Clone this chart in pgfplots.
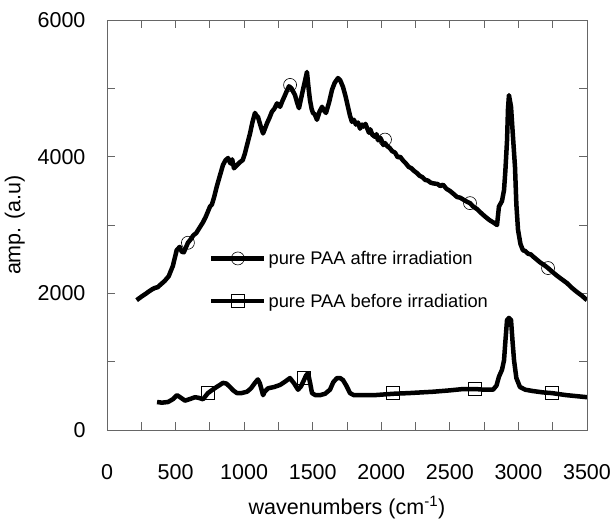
\documentclass[border=0pt]{standalone}
\usepackage{fontspec}
\setmainfont{Liberation Sans}
\usepackage{pgfplots}
\pgfplotsset{compat=1.18}
\begin{document}
\begin{tikzpicture}
\useasboundingbox (-107pt,-98pt) rectangle (506pt,430pt);
\begin{axis}[
  at={(0pt,0pt)}, anchor=south west,
  scale only axis, width=480pt, height=410pt,
  xmin=0, xmax=3500, ymin=0, ymax=6000,
  xtick={0,500,...,3500}, ytick={0,2000,4000,6000},
  minor xtick={250,750,...,3250}, minor ytick={1000,3000,5000},
  tick align=inside, major tick length=8pt, minor tick length=8pt,
  axis line style={gray!80!black, line width=0.8pt},
  every tick/.style={gray!80!black, line width=0.8pt},
  /pgf/number format/assume math mode=true,
  /pgf/number format/1000 sep={},
  font=\fontsize{21.5}{25}\selectfont,
  xticklabel style={yshift=-31pt},
  yticklabel style={xshift=-18pt},
  xlabel={wavenumbers (cm\textsuperscript{-1})},
  ylabel={amp. (a.u)},
  xlabel style={yshift=-10pt},
  ylabel style={yshift=6pt},
  legend image code/.code={\draw[#1, mark repeat=2, mark phase=2] plot coordinates {(0pt,0pt) (26.5pt,0pt) (53pt,0pt)};},
  legend style={draw=none, fill=none, at={(axis cs:721,2680)}, anchor=north west,
    font=\fontsize{18.3}{21}\selectfont, row sep=24pt, nodes={inner sep=2pt}},
  legend cell align=left,
]
\addplot[black, line width=4.5pt, line join=round, forget plot] coordinates {
(216,1900) (250,1950) (280,1990) (300,2020) (330,2060) (350,2080) (370,2090) (386,2120) (420,2180) (450,2250) (480,2400) (508,2630) (530,2680) (545,2610) (560,2600) (590,2740) (610,2790) (630,2850) (650,2880) (678,2970) (700,3040) (720,3120) (751,3270) (765,3300) (780,3400) (800,3560) (820,3700) (846,3880) (865,3950) (883,3980) (900,3900) (913,3960) (926,3830) (950,3880) (970,3920) (990,3950) (1006,4050) (1025,4200) (1043,4340) (1060,4500) (1079,4640) (1090,4600) (1101,4580) (1120,4450) (1138,4340) (1150,4400) (1167,4490) (1185,4570) (1203,4660) (1220,4700) (1240,4780) (1262,4730) (1280,4820) (1298,4900) (1315,4980) (1327,5030) (1345,5000) (1371,4900) (1385,4800) (1400,4710) (1415,4850) (1429,4980) (1445,5120) (1458,5240) (1470,5000) (1480,4830) (1492,4700) (1502,4640) (1515,4620) (1531,4540) (1550,4660) (1568,4730) (1580,4680) (1597,4640) (1620,4800) (1641,4980) (1660,5080) (1684,5150) (1700,5120) (1721,5020) (1740,4880) (1757,4730) (1772,4600) (1786,4510) (1800,4540) (1815,4470) (1830,4500) (1845,4410) (1860,4470) (1870,4440) (1885,4480) (1896,4420) (1910,4350) (1920,4400) (1935,4320) (1954,4290) (1965,4330) (1976,4240) (1990,4280) (2000,4250) (2015,4170) (2027,4200) (2045,4150) (2060,4130) (2080,4080) (2100,4060) (2120,3990) (2137,4000) (2160,3940) (2180,3900) (2200,3850) (2220,3830) (2240,3790) (2260,3760) (2280,3720) (2300,3700) (2320,3660) (2340,3650) (2360,3620) (2377,3610) (2410,3600) (2430,3570) (2450,3590) (2475,3530) (2500,3500) (2530,3450) (2552,3410) (2575,3400) (2600,3370) (2625,3340) (2647,3320) (2670,3270) (2700,3230) (2720,3190) (2742,3150) (2765,3110) (2790,3070) (2815,3040) (2844,3000) (2858,3270) (2880,3350) (2895,3510) (2905,3800) (2917,4240) (2924,4700) (2931,4900) (2946,4730) (2960,4300) (2975,3850) (2985,3300) (2997,2930) (3015,2720) (3033,2630) (3050,2620) (3070,2580) (3090,2570) (3106,2540) (3130,2500) (3160,2450) (3190,2410) (3216,2370) (3250,2310) (3280,2260) (3320,2200) (3354,2150) (3390,2080) (3420,2030) (3460,1970) (3500,1900)
};
\addplot[black, line width=0.6pt, only marks, mark=o, mark size=6.5pt, forget plot] coordinates {
(590,2740) (1335,5050) (2027,4250) (2647,3320) (3216,2370)
};
\addplot[black, line width=4.5pt, line join=round, forget plot] coordinates {
(365,410) (400,400) (445,410) (480,450) (510,510) (540,470) (569,430) (600,450) (642,480) (670,470) (700,450) (736,540) (770,590) (800,630) (846,690) (870,680) (897,630) (920,580) (948,540) (980,540) (1021,560) (1050,610) (1079,690) (1100,740) (1115,680) (1138,510) (1150,560) (1174,610) (1220,630) (1262,660) (1300,710) (1334,760) (1365,680) (1393,590) (1415,640) (1436,730) (1452,800) (1466,830) (1480,700) (1495,540) (1520,510) (1553,510) (1590,530) (1626,590) (1650,700) (1677,760) (1700,760) (1721,730) (1745,650) (1772,540) (1800,510) (1867,510) (1950,510) (2086,530) (2200,540) (2377,560) (2500,580) (2600,600) (2683,600) (2750,590) (2815,590) (2840,650) (2858,780) (2880,880) (2895,1020) (2905,1300) (2917,1610) (2931,1640) (2946,1610) (2957,1300) (2968,1020) (2985,760) (3011,630) (3050,590) (3106,570) (3180,550) (3245,540) (3350,510) (3500,480)
};
\addplot[black, line width=0.6pt, only marks, mark=square, mark size=6.5pt, forget plot] coordinates {
(736,540) (1436,760) (2086,540) (2683,600) (3245,540)
};
\addlegendimage{black, line width=4.5pt, mark=o, mark size=6.5pt, mark options={line width=0.6pt, fill=white}}
\addlegendentry{pure PAA aftre irradiation}
\addlegendimage{black, line width=4.5pt, mark=square, mark size=6.5pt, mark options={line width=0.6pt, fill=white}}
\addlegendentry{pure PAA before irradiation}
\end{axis}
\end{tikzpicture}
\end{document}
